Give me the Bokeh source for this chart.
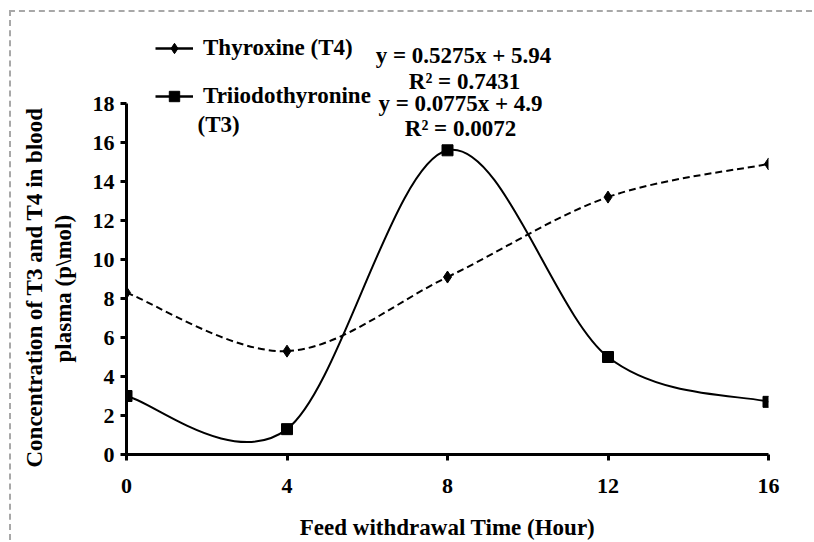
import numpy as np
from bokeh.plotting import figure
from bokeh.models import (FixedTicker, Legend, LegendItem, Label, Range1d, Title)
from bokeh.embed import file_html
from bokeh.resources import INLINE

# ---- data ----
hours = [0, 4, 8, 12, 16]
t4_values = [8.3, 5.3, 9.1, 13.2, 14.9]     # Thyroxine (T4)
t3_values = [3.0, 1.3, 15.6, 5.0, 2.7]      # Triiodothyronine (T3)
x_ticks = [0, 4, 8, 12, 16]
y_ticks = [0, 2, 4, 6, 8, 10, 12, 14, 16, 18]
t4_equation = ["y = 0.5275x + 5.94", "R\u00b2 = 0.7431"]
t3_equation = ["y = 0.0775x + 4.9", "R\u00b2 = 0.0072"]
y_title_lines = ["Concentration of T3 and T4 in blood", "plasma (p\\mol)"]
x_title = "Feed withdrawal Time (Hour)"

FONT = "Liberation Serif"
FS = "23px"
TICK_FS = "22px"


def smooth_segments(xs, ys):
    """Catmull-Rom style bezier control points (Excel 'smoothed line')."""
    xs = np.asarray(xs, float)
    ys = np.asarray(ys, float)
    n = len(xs)
    px = np.concatenate([[xs[0]], xs, [xs[-1]]])
    py = np.concatenate([[ys[0]], ys, [ys[-1]]])
    x0, y0, x1, y1, cx0, cy0, cx1, cy1 = ([] for _ in range(8))
    for i in range(n - 1):
        a, b, c, d = i, i + 1, i + 2, i + 3
        x0.append(px[b]); y0.append(py[b])
        x1.append(px[c]); y1.append(py[c])
        cx0.append(px[b] + (px[c] - px[a]) / 6.0)
        cy0.append(py[b] + (py[c] - py[a]) / 6.0)
        cx1.append(px[c] - (px[d] - px[b]) / 6.0)
        cy1.append(py[c] - (py[d] - py[b]) / 6.0)
    return dict(x0=x0, y0=y0, x1=x1, y1=y1, cx0=cx0, cy0=cy0, cx1=cx1, cy1=cy1)


p = figure(width=803, height=530, output_backend="svg", toolbar_location=None,
           x_range=Range1d(0, 16), y_range=Range1d(0, 22),
           min_border_left=115, min_border_top=13, min_border_right=46,
           min_border_bottom=87)
p.styles = {"border-top": "2px dashed #a8a8a8", "border-left": "2px dashed #a8a8a8",
            "margin-left": "9px", "margin-top": "10px"}
p.outline_line_color = None
p.grid.visible = False
p.background_fill_color = "white"
p.border_fill_color = "white"

for ax in (p.xaxis[0], p.yaxis[0]):
    ax.axis_line_width = 3
    ax.axis_line_color = "black"
    ax.major_tick_line_width = 3
    ax.major_tick_line_color = "black"
    ax.major_tick_in = 0
    ax.major_tick_out = 6
    ax.minor_tick_line_color = None
    ax.major_label_text_font = FONT
    ax.major_label_text_font_style = "bold"
    ax.major_label_text_font_size = TICK_FS
    ax.major_label_text_color = "black"
    ax.axis_label_text_font = FONT
    ax.axis_label_text_font_style = "bold"
    ax.axis_label_text_font_size = FS
    ax.axis_label_text_color = "black"

p.xaxis.ticker = FixedTicker(ticks=x_ticks)
p.yaxis.ticker = FixedTicker(ticks=y_ticks)
p.yaxis.bounds = (0, 18)
p.xaxis.major_label_standoff = 18
p.yaxis.major_label_standoff = 6
p.xaxis.axis_label = x_title
p.xaxis.axis_label_standoff = 19

# y-axis title as two rotated titles in the left panel
p.add_layout(Title(text=y_title_lines[1], align="left", offset=92, standoff=4,
                   padding=dict(left=0, right=0, top=0, bottom=12),
                   text_font=FONT, text_font_style="bold", text_font_size=FS,
                   text_color="black"), "left")
p.add_layout(Title(text=y_title_lines[0], align="left", offset=-13, standoff=0,
                   padding=dict(left=0, right=0, top=0, bottom=12),
                   text_font=FONT, text_font_style="bold", text_font_size=FS,
                   text_color="black"), "left")

# curves
t4_seg = smooth_segments(hours, t4_values)
t3_seg = smooth_segments(hours, t3_values)
p.bezier(source=t4_seg, x0="x0", y0="y0", x1="x1", y1="y1", cx0="cx0", cy0="cy0",
         cx1="cx1", cy1="cy1", line_color="black", line_width=2, line_dash="7 4")
p.bezier(source=t3_seg, x0="x0", y0="y0", x1="x1", y1="y1", cx0="cx0", cy0="cy0",
         cx1="cx1", cy1="cy1", line_color="black", line_width=2)
s4 = p.scatter(hours, t4_values, marker="diamond", size=12, color="black")
s3 = p.scatter(hours, t3_values, marker="square", size=11, color="black")

# legend: solid line + marker for each series
l4 = p.line([np.nan, np.nan], [np.nan, np.nan], line_color="black", line_width=2.5)
l3 = p.line([np.nan, np.nan], [np.nan, np.nan], line_color="black", line_width=2.5)
legend = Legend(items=[LegendItem(label="Thyroxine (T4)", renderers=[l4, s4]),
                       LegendItem(label="Triiodothyronine", renderers=[l3, s3])],
                location=(29, 345), orientation="vertical")
legend.background_fill_alpha = 0
legend.border_line_color = None
legend.padding = 0
legend.margin = 0
legend.spacing = 22
legend.glyph_width = 38
legend.glyph_height = 26
legend.label_height = 26
legend.label_standoff = 10
legend.label_text_font = FONT
legend.label_text_font_style = "bold"
legend.label_text_font_size = FS
legend.label_text_color = "black"
legend.label_text_baseline = "middle"
p.add_layout(legend, "center")

p.add_layout(Label(x=71, y=330, x_units="screen", y_units="screen", text="(T3)",
                   text_font=FONT, text_font_style="bold", text_font_size=FS,
                   text_color="black", text_align="left", text_baseline="middle"))

# equations
eq_pos = [(337, 399), (338, 373), (334, 351), (334, 326)]
for (sx, sy), txt in zip(eq_pos, t4_equation + t3_equation):
    p.add_layout(Label(x=sx, y=sy, x_units="screen", y_units="screen", text=txt,
                       text_font=FONT, text_font_style="bold", text_font_size=FS,
                       text_color="black", text_align="center", text_baseline="middle"))

open("out.html", "w").write(file_html(p, INLINE))
